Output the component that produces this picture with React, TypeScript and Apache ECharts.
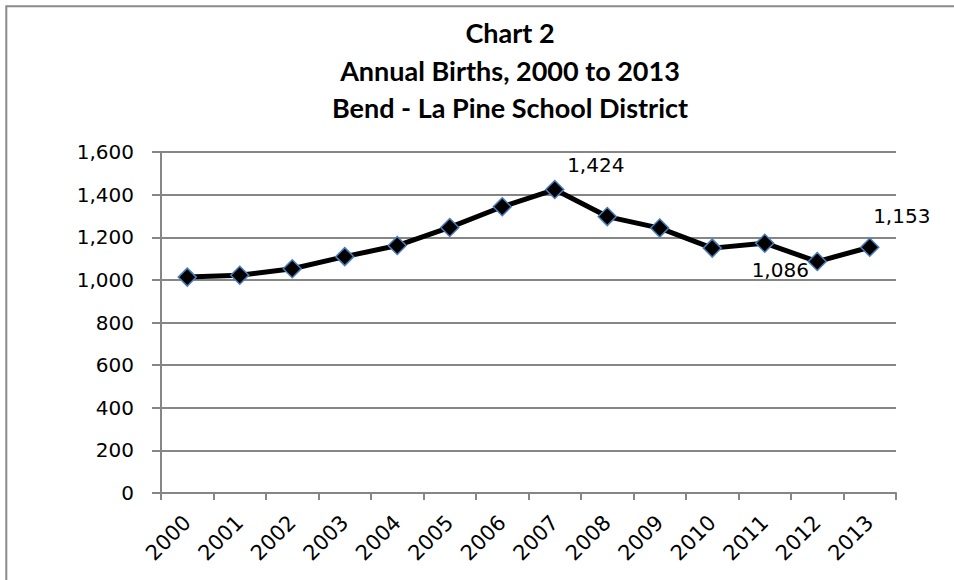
import React, { useEffect, useRef } from "react";
import * as echarts from "echarts";

const categories = ["2000", "2001", "2002", "2003", "2004", "2005", "2006", "2007", "2008", "2009", "2010", "2011", "2012", "2013"];
const births = [1013, 1022, 1052, 1109, 1161, 1246, 1343, 1424, 1297, 1243, 1149, 1172, 1086, 1153];
const labelledYears = ["2007", "2012", "2013"];
const titleLines = ["Chart 2", "Annual Births, 2000 to 2013", "Bend - La Pine School District"];

const labelOffsets: Record<string, [number, number]> = {
  "2007": [41, -25],
  "2012": [-37, 8],
  "2013": [32, -31],
};

export default function App() {
  const ref = useRef<HTMLDivElement>(null);
  useEffect(() => {
    if (!ref.current) return;
    const chart = echarts.init(ref.current, undefined, { renderer: "svg" });
    const fmt = (v: number) => Math.round(v).toLocaleString("en-US");
    const data = births.map((v, i) => {
      const cat = categories[i];
      if (labelledYears.includes(cat)) {
        return {
          value: v,
          label: {
            show: true,
            position: "inside",
            offset: labelOffsets[cat],
            formatter: (p: any) => fmt(p.value),
            fontFamily: "DejaVu Sans",
            fontSize: 20,
            color: "#000",
          },
        };
      }
      return { value: v };
    });
    const titleY = [32, 70, 107];
    const gray = "#868686";
    chart.setOption({
      animation: false,
      grid: { left: 161, right: 58, top: 152, bottom: 87, containLabel: false },
      xAxis: {
        type: "category",
        data: categories,
        boundaryGap: true,
        axisLine: { lineStyle: { color: gray, width: 2 } },
        axisTick: { show: true, length: 7, alignWithLabel: false, lineStyle: { color: gray, width: 2 } },
        axisLabel: {
          rotate: 45,
          margin: 26,
          fontFamily: "DejaVu Sans",
          fontSize: 21,
          color: "#000",
          interval: 0,
        },
        splitLine: { show: false },
      },
      yAxis: {
        type: "value",
        min: 0,
        max: 1600,
        interval: 200,
        axisLine: { show: true, lineStyle: { color: gray, width: 2 } },
        axisTick: { show: true, length: 9, lineStyle: { color: gray, width: 2 } },
        axisLabel: {
          margin: 27,
          fontFamily: "DejaVu Sans",
          fontSize: 20,
          color: "#000",
          formatter: (v: number) => fmt(v),
        },
        splitLine: { show: true, lineStyle: { color: gray, width: 2 } },
      },
      series: [
        {
          type: "line",
          data,
          lineStyle: { color: "#000", width: 5 },
          symbol: "diamond",
          symbolSize: 18,
          itemStyle: { color: "#000", borderColor: "#4a7ebb", borderWidth: 1.5 },
          label: { show: false },
          z: 3,
        },
      ],
      graphic: [
        {
          type: "rect",
          shape: { x: 6.3, y: 6.3, width: 1000, height: 1000 },
          style: { fill: "none", stroke: "#8a8a8a", lineWidth: 2 },
          silent: true,
        },
        ...titleLines.map((t, i) => ({
          type: "text",
          x: 510,
          y: titleY[i],
          style: {
            text: t,
            fontFamily: "Lato",
            fontWeight: "bold",
            fontSize: 27,
            fill: "#000",
            textAlign: "center",
            textVerticalAlign: "middle",
          },
        })),
      ],
    });
    return () => chart.dispose();
  }, []);
  return (
    <div
      ref={ref}
      style={{ position: "absolute", left: 0, top: 0, width: 954, height: 580 }}
    />
  );
}
